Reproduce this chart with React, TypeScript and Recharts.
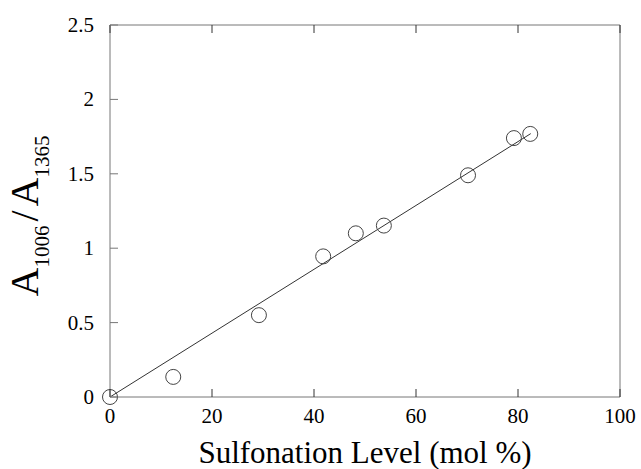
import { ComposedChart, Line, Scatter, XAxis, YAxis } from "recharts";

// Sulfonation level (mol %) vs. absorbance ratio A1006 / A1365
const sulfonation = [0, 12.4, 29.2, 41.8, 48.2, 53.7, 70.2, 79.2, 82.4];
const absRatio = [0, 0.135, 0.55, 0.945, 1.1, 1.152, 1.49, 1.74, 1.768];

// linear fit drawn in the figure
const fitX = [0, 82.5];
const fitY = [0, 1.77];

const xTicks = [0, 20, 40, 60, 80, 100];
const yTicks = [0, 0.5, 1, 1.5, 2, 2.5];

const points = sulfonation.map((x, i) => ({ x, y: absRatio[i] }));
const fit = fitX.map((x, i) => ({ x, fit: fitY[i] }));

const font = "Liberation Serif";
const textStyle = { fontFamily: font };
const frame = "#777";

function BottomTick(props: any) {
  const { x, y, payload } = props;
  return (
    <g>
      <line x1={x} y1={y} x2={x} y2={y - 8} stroke="#333" />
      <text x={x} y={y + 26} textAnchor="middle" fontSize={21} style={textStyle} fill="#000">
        {payload.value}
      </text>
    </g>
  );
}

function TopTick(props: any) {
  const { x, y } = props;
  return <line x1={x} y1={y} x2={x} y2={y + 8} stroke="#333" />;
}

function LeftTick(props: any) {
  const { x, y, payload } = props;
  return (
    <g>
      <line x1={x} y1={y} x2={x + 8} y2={y} stroke={frame} />
      <text x={x - 16} y={y + 7} textAnchor="end" fontSize={21} style={textStyle} fill="#000">
        {payload.value}
      </text>
    </g>
  );
}

function RightTick(props: any) {
  const { x, y } = props;
  return <line x1={x} y1={y} x2={x - 8} y2={y} stroke={frame} />;
}

function Circle(props: any) {
  const { cx, cy } = props;
  return <circle cx={cx} cy={cy} r={7.5} fill="none" stroke="#444" strokeWidth={1} />;
}

export default function App() {
  return (
    <div
      style={{
        position: "absolute",
        left: 0,
        top: 0,
        width: 641,
        height: 469,
        background: "#fff",
        fontFamily: font,
      }}
    >
      <ComposedChart
        width={641}
        height={469}
        data={fit}
        margin={{ top: 24, right: 20, bottom: 71, left: 109 }}
        style={textStyle}
      >
        <XAxis
          xAxisId="b"
          dataKey="x"
          type="number"
          domain={[0, 100]}
          ticks={xTicks}
          height={1}
          tickSize={0}
          tickMargin={0}
          tickLine={false}
          axisLine={{ stroke: frame }}
          tick={<BottomTick />}
          interval={0}
        />
        <XAxis
          xAxisId="t"
          orientation="top"
          dataKey="x"
          type="number"
          domain={[0, 100]}
          ticks={xTicks}
          height={1}
          tickSize={0}
          tickMargin={0}
          tickLine={false}
          axisLine={{ stroke: frame }}
          tick={<TopTick />}
          interval={0}
        />
        <YAxis
          yAxisId="l"
          type="number"
          domain={[0, 2.5]}
          ticks={yTicks}
          width={1}
          tickSize={0}
          tickMargin={0}
          tickLine={false}
          axisLine={{ stroke: frame }}
          tick={<LeftTick />}
          interval={0}
        />
        <YAxis
          yAxisId="r"
          orientation="right"
          type="number"
          domain={[0, 2.5]}
          ticks={yTicks}
          width={1}
          tickSize={0}
          tickMargin={0}
          tickLine={false}
          axisLine={{ stroke: frame }}
          tick={<RightTick />}
          interval={0}
        />
        <Line
          xAxisId="b"
          yAxisId="l"
          dataKey="fit"
          stroke="#333"
          strokeWidth={1}
          dot={false}
          isAnimationActive={false}
        />
        <Scatter
          xAxisId="b"
          yAxisId="l"
          data={points}
          dataKey="y"
          shape={<Circle />}
          isAnimationActive={false}
        />
        <text x={365} y={463} textAnchor="middle" fontSize={31} style={textStyle} fill="#000">
          Sulfonation Level (mol %)
        </text>
        <text
          transform="translate(38, 216) rotate(-90)"
          textAnchor="middle"
          fontSize={40}
          style={textStyle}
          fill="#000"
        >
          A<tspan fontSize={21} dy={11}>1006</tspan>
          <tspan dy={-11} dx={4}>/</tspan>
          <tspan dx={4}>A</tspan>
          <tspan fontSize={21} dy={11}>1365</tspan>
        </text>
      </ComposedChart>
    </div>
  );
}
